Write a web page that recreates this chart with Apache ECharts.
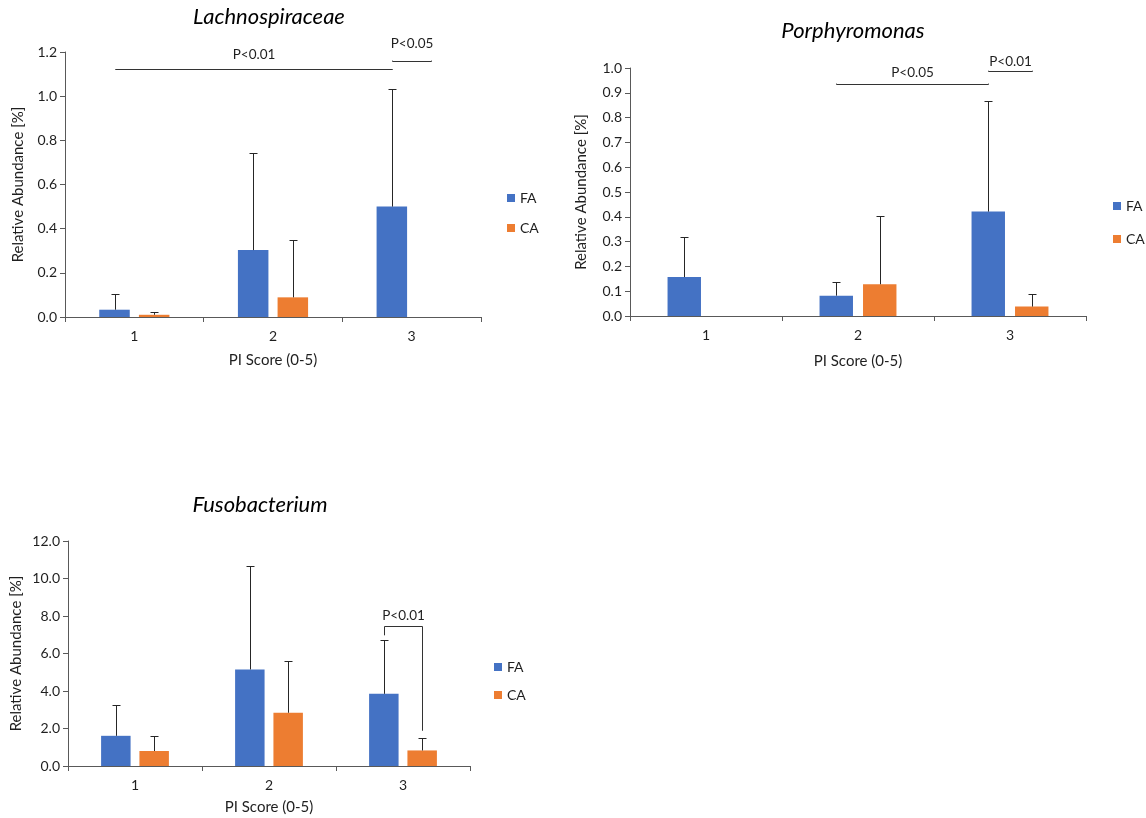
<!DOCTYPE html>
<html><head><meta charset="utf-8">
<script src="https://cdn.jsdelivr.net/npm/echarts@6.0.0/dist/echarts.min.js"></script>
<style>html,body{margin:0;padding:0;background:#fff}#c{width:1146px;height:818px}</style>
</head><body><div id="c"></div>
<script>
// ---------- data ----------
const categories = ['1', '2', '3'];
const groupNames = ['FA', 'CA'];

// Lachnospiraceae
const lachFA   = [0.033, 0.303, 0.500];
const lachFAsd = [0.069, 0.441, 0.531];
const lachCA   = [0.010, 0.089, 0.000];
const lachCAsd = [0.011, 0.260, 0.000];
const lachY    = [0, 1.2, 0.2];           // min, max, interval
// significance: [fromCat, fromGroup, toCat, toGroup, lineY, leftEndY, rightEndY, labelY]
const lachSig       = [[0, 0, 2, 0, 1.123, 1.123, 1.123, 1.187], [2, 0, 2, 1, 1.161, 1.161, 1.161, 1.236]];
const lachSigLabels = ['P<0.01', 'P<0.05'];

// Porphyromonas
const porFA   = [0.157, 0.082, 0.421];
const porFAsd = [0.163, 0.056, 0.447];
const porCA   = [0.000, 0.128, 0.038];
const porCAsd = [0.000, 0.277, 0.051];
const porY    = [0, 1.0, 0.1];
const porSig       = [[1, 0, 2, 0, 0.937, 0.937, 0.937, 0.980], [2, 0, 2, 1, 0.989, 0.989, 0.989, 1.027]];
const porSigLabels = ['P<0.05', 'P<0.01'];

// Fusobacterium
const fusoFA   = [1.61, 5.15, 3.85];
const fusoFAsd = [1.62, 5.52, 2.89];
const fusoCA   = [0.80, 2.84, 0.83];
const fusoCAsd = [0.81, 2.75, 0.66];
const fusoY    = [0, 12, 2];
const fusoSig       = [[2, 0, 2, 1, 7.45, 6.97, 1.88, 8.0]];
const fusoSigLabels = ['P<0.01'];

// ---------- styling ----------
const FONT = 'Lato, "Open Sans", sans-serif';
const BLUE = '#4472C4', ORANGE = '#ED7D31';
const AXIS = '#595959', TXT = '#1f1f1f', ERR = '#262626';
const BAR_W = 0.22, BAR_GAP = 0.30;
const BAR_OFFSET = BAR_W * (1 + BAR_GAP) / 2;
const sgn = g => (g === 0 ? -1 : 1);
const crisp = v => Math.round(v) + 0.5;

const panels = [
  { title: 'Lachnospiraceae', fa: lachFA, faSd: lachFAsd, ca: lachCA, caSd: lachCAsd, y: lachY, sig: lachSig, sigLabels: lachSigLabels,
    grid: { left: 65, top: 52, width: 416, height: 265 }, titlePos: [269, 6],
    legend: { left: 507, top: 190, itemGap: 14 }, yNameGap: 39, xNameGap: 36 },
  { title: 'Porphyromonas', fa: porFA, faSd: porFAsd, ca: porCA, caSd: porCAsd, y: porY, sig: porSig, sigLabels: porSigLabels,
    grid: { left: 630, top: 68, width: 456, height: 248 }, titlePos: [853, 20],
    legend: { left: 1113, top: 198, itemGap: 17 }, yNameGap: 41, xNameGap: 38 },
  { title: 'Fusobacterium', fa: fusoFA, faSd: fusoFAsd, ca: fusoCA, caSd: fusoCAsd, y: fusoY, sig: fusoSig, sigLabels: fusoSigLabels,
    grid: { left: 68, top: 541, width: 402, height: 225 }, titlePos: [260, 494],
    legend: { left: 494, top: 659, itemGap: 12 }, yNameGap: 44, xNameGap: 34 }
];

function errRender(params, api) {
  const sd = api.value(2);
  if (!(sd > 0)) return null;
  const cat = api.value(0), mean = api.value(1), g = api.value(3);
  const band = api.size([1, 0])[0];
  const base = api.coord([cat, mean]);
  const top = api.coord([cat, mean + sd]);
  const x = crisp(base[0] + sgn(g) * BAR_OFFSET * band);
  const yt = crisp(top[1]);
  const st = { stroke: ERR, lineWidth: 1 };
  return { type: 'group', children: [
    { type: 'line', shape: { x1: x, y1: base[1], x2: x, y2: yt }, style: st },
    { type: 'line', shape: { x1: x - 4, y1: yt, x2: x + 4, y2: yt }, style: st }
  ]};
}

function makeSigRender(labels) {
  return function (params, api) {
    const band = api.size([1, 0])[0];
    const fx = crisp(api.coord([api.value(0), 0])[0] + sgn(api.value(1)) * BAR_OFFSET * band);
    const tx = crisp(api.coord([api.value(2), 0])[0] + sgn(api.value(3)) * BAR_OFFSET * band);
    const yL = crisp(api.coord([0, api.value(4)])[1]);
    const yA = api.coord([0, api.value(5)])[1];
    const yB = api.coord([0, api.value(6)])[1];
    const yT = api.coord([0, api.value(7)])[1];
    return { type: 'group', children: [
      { type: 'polyline', shape: { points: [[fx, yA], [fx, yL], [tx, yL], [tx, yB]] },
        style: { stroke: '#333', lineWidth: 1, fill: null } },
      { type: 'text', style: { text: labels[params.dataIndex], x: (fx + tx) / 2, y: yT,
        align: 'center', verticalAlign: 'middle', fill: TXT, font: '13.5px ' + FONT } }
    ]};
  };
}

const option = { animation: false, backgroundColor: '#fff', textStyle: { fontFamily: FONT },
  title: [], grid: [], xAxis: [], yAxis: [], legend: [], series: [] };

panels.forEach((p, i) => {
  option.title.push({ text: p.title, left: p.titlePos[0], top: p.titlePos[1], textAlign: 'center', padding: 0,
    textStyle: { fontFamily: FONT, fontStyle: 'italic', fontWeight: 'normal', fontSize: 22, color: '#000' } });
  option.grid.push(Object.assign({ containLabel: false, outerBoundsMode: 'none' }, p.grid));
  option.xAxis.push({ gridIndex: i, type: 'category', data: categories,
    axisLine: { lineStyle: { color: AXIS, width: 1 } },
    axisTick: { show: true, length: 5, lineStyle: { color: AXIS } },
    axisLabel: { color: TXT, fontSize: 14, margin: 12, fontFamily: FONT },
    splitLine: { show: false },
    name: 'PI Score (0-5)', nameLocation: 'middle', nameGap: p.xNameGap,
    nameTextStyle: { color: TXT, fontSize: 15, fontFamily: FONT } });
  option.yAxis.push({ gridIndex: i, type: 'value', min: p.y[0], max: p.y[1], interval: p.y[2],
    axisLine: { show: true, lineStyle: { color: AXIS, width: 1 } },
    axisTick: { show: true, length: 5, lineStyle: { color: AXIS } },
    axisLabel: { color: TXT, fontSize: 14, margin: 8, fontFamily: FONT, formatter: v => v.toFixed(1) },
    splitLine: { show: false },
    name: 'Relative Abundance [%]', nameLocation: 'middle', nameGap: p.yNameGap,
    nameTextStyle: { color: TXT, fontSize: 15, fontFamily: FONT } });
  option.legend.push({ orient: 'vertical', left: p.legend.left, top: p.legend.top, itemGap: p.legend.itemGap,
    itemWidth: 8, itemHeight: 8, icon: 'rect', selectedMode: false, data: groupNames, padding: 0,
    textStyle: { color: TXT, fontSize: 14, lineHeight: 16, fontFamily: FONT } });
  [[p.fa, p.faSd, BLUE], [p.ca, p.caSd, ORANGE]].forEach(([vals, sds, col], g) => {
    option.series.push({ type: 'bar', name: groupNames[g], xAxisIndex: i, yAxisIndex: i, data: vals,
      barWidth: (BAR_W * 100) + '%', barGap: (BAR_GAP * 100) + '%',
      itemStyle: { color: col }, emphasis: { disabled: true } });
  });
  [[p.fa, p.faSd], [p.ca, p.caSd]].forEach(([vals, sds], g) => {
    option.series.push({ type: 'custom', name: groupNames[g] + ' SD', xAxisIndex: i, yAxisIndex: i, z: 3,
      renderItem: errRender, encode: { x: 0, y: 1 },
      data: categories.map((c, k) => [k, vals[k], sds[k], g]) });
  });
  option.series.push({ type: 'custom', name: 'sig' + i, xAxisIndex: i, yAxisIndex: i, z: 4, clip: false,
    renderItem: makeSigRender(p.sigLabels), encode: { x: 0, y: 4 }, data: p.sig });
});

const chart = echarts.init(document.getElementById('c'), null, { renderer: 'canvas' });
chart.setOption(option);
</script></body></html>
